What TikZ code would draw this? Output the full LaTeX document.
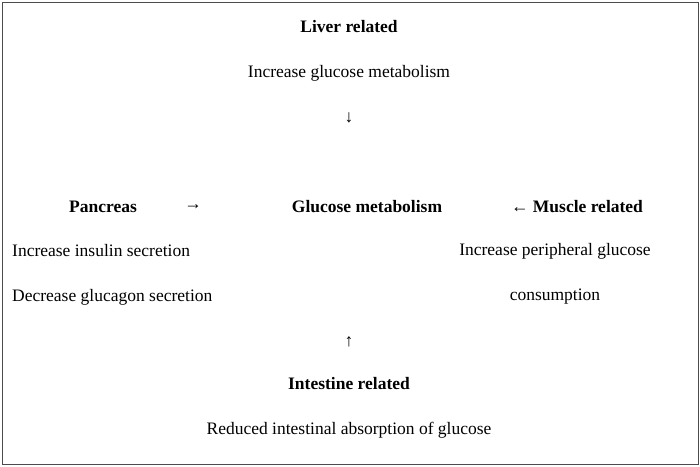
\documentclass[tikz,border=0pt]{standalone}
\usepackage{fontspec}
\setmainfont{Liberation Serif}
\begin{document}
\begin{tikzpicture}[x=1pt,y=-1pt,
  every node/.style={inner sep=0pt,font=\fontsize{17.5}{20}\selectfont},
  hd/.style={font=\fontsize{17.5}{20}\selectfont\bfseries}]
\useasboundingbox (0,0) rectangle (700,466);
\draw[black!70,line width=1pt] (2,2) rectangle (698,464);
\node[hd] (liver) at (349,27) {Liver related};
\node (livt) at (349,73) {Increase glucose metabolism};
\node (da) at (349,118) {↓};
\node[hd] (pan) at (103,207) {Pancreas};
\node (ra) at (193,207) {→};
\node[hd] (glu) at (367,207) {Glucose metabolism};
\node[hd] (mus) at (577,207) {← Muscle related};
\node[anchor=west] (p1) at (12,251) {Increase insulin secretion};
\node[anchor=west] (p2) at (12,297) {Decrease glucagon secretion};
\node (m1) at (555,251) {Increase peripheral glucose};
\node (m2) at (555,297) {consumption};
\node (ua) at (349,342) {↑};
\node[hd] (int) at (349,384) {Intestine related};
\node (intt) at (349,430) {Reduced intestinal absorption of glucose};
\end{tikzpicture}
\end{document}
